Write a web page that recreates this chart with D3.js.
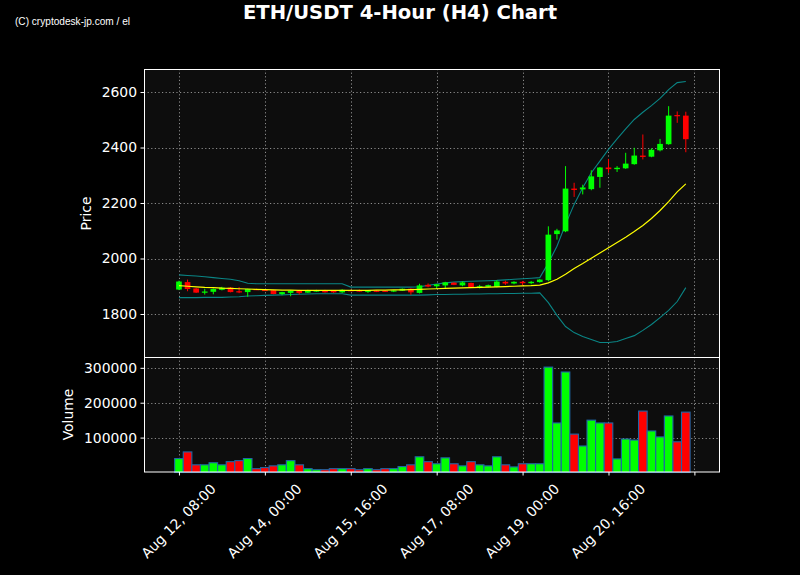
<!DOCTYPE html>
<html><head><meta charset="utf-8">
<script src="https://cdn.jsdelivr.net/npm/d3@7"></script>
<style>
html,body{margin:0;padding:0;background:#000;}
svg{display:block;}
text{font-family:"DejaVu Sans",sans-serif;fill:#fff;}
</style></head>
<body><svg id="c" width="800" height="575"></svg>
<script>
// ---- data ----
const startTime = "2024-08-12T08:00:00Z";
const opens  = [1888,1915,1892,1878,1880,1887,1895,1882,1879,1890,1887,1886,1872,1876,1884,1877,1882,1885,1884,1878,1886,1885,1881,1884,1884,1881,1884,1891,1876,1905,1900,1903,1913,1903,1912,1894,1898,1898,1916,1910,1916,1911,1915,1922,2088,2098,2252,2249,2250,2294,2328,2322,2325,2340,2371,2367,2390,2412,2517,2515];
const highs  = [1920,1924,1894,1891,1892,1898,1897,1897,1891,1891,1889,1887,1880,1886,1887,1887,1887,1887,1886,1889,1888,1888,1886,1886,1885,1886,1892,1893,1909,1910,1908,1916,1914,1918,1913,1905,1906,1922,1920,1918,1919,1919,1926,2116,2107,2333,2273,2266,2318,2330,2359,2333,2381,2399,2447,2397,2431,2549,2530,2529];
const lows   = [1886,1882,1876,1870,1871,1885,1878,1875,1862,1886,1884,1871,1868,1864,1870,1876,1880,1877,1876,1876,1883,1880,1876,1879,1880,1879,1883,1869,1874,1896,1890,1893,1904,1900,1894,1892,1896,1896,1905,1907,1903,1907,1913,1918,2068,2095,2222,2231,2246,2255,2309,2312,2323,2338,2357,2365,2386,2410,2489,2383];
const closes = [1917,1890,1877,1881,1890,1895,1879,1879,1890,1887,1886,1872,1879,1884,1876,1885,1885,1878,1878,1887,1885,1884,1884,1881,1881,1885,1891,1878,1903,1899,1907,1914,1905,1914,1896,1900,1904,1917,1910,1916,1911,1916,1924,2086,2101,2252,2247,2256,2296,2328,2322,2327,2342,2371,2366,2392,2413,2515,2513,2430];
const volumes = [40000,59000,22000,22000,28000,22000,31000,34000,40000,11000,14000,19000,22000,34000,22000,11000,8000,8000,11000,11000,11000,8000,11000,8000,11000,11000,17000,22000,45000,31000,25000,42000,25000,19000,31000,22000,19000,45000,22000,16000,25000,25000,25000,302000,142000,288000,110000,76000,150000,142000,142000,39000,96000,93000,176000,119000,102000,162000,88000,173000];
const sma20 = [1902,1900,1898,1896,1895,1893,1892,1891,1890,1889,1888,1887,1886,1886,1885,1885,1885,1885,1885,1885,1885,1885,1885,1886,1886,1887,1887,1888,1889,1890,1891,1892,1893,1894,1895,1896,1897,1898,1899,1900,1901,1902,1904,1912,1925,1943,1964,1982,2001,2020,2039,2058,2077,2097,2119,2144,2173,2205,2240,2269];
const upperBand = [1941,1939,1937,1934,1931,1928,1925,1920,1911,1909,1909,1909,1909,1909,1909,1909,1909,1909,1909,1909,1897,1897,1897,1897,1897,1897,1897,1897,1898,1903,1908,1912,1915,1917,1918,1919,1920,1921,1923,1925,1927,1929,1931,1984,2044,2123,2195,2255,2309,2351,2393,2431,2467,2501,2527,2551,2577,2609,2634,2638];
const lowerBand = [1859,1859,1859,1860,1860,1860,1861,1862,1865,1866,1867,1868,1869,1870,1871,1872,1873,1873,1873,1873,1868,1868,1868,1868,1868,1868,1868,1868,1868,1869,1870,1870,1871,1871,1872,1872,1873,1873,1874,1874,1875,1875,1876,1841,1795,1755,1733,1719,1708,1697,1697,1701,1712,1722,1741,1762,1787,1813,1845,1895];
const priceTicks = [1800,2000,2200,2400,2600];
const volumeTicks = [100000,200000,300000];
const xTickTimes = ["2024-08-12T08:00:00Z","2024-08-14T00:00:00Z","2024-08-15T16:00:00Z","2024-08-17T08:00:00Z","2024-08-19T00:00:00Z","2024-08-20T16:00:00Z","2024-08-22T08:00:00Z"];
const xTickLabels = ["Aug 12, 08:00","Aug 14, 00:00","Aug 15, 16:00","Aug 17, 08:00","Aug 19, 00:00","Aug 20, 16:00",""];
const titleText = "ETH/USDT 4-Hour (H4) Chart";
const watermark = "(C) cryptodesk-jp.com / el";

// ---- build ----
const H4 = 4*3600*1000;
const t0 = new Date(startTime).getTime();
const data = opens.map((o,i)=>({t:new Date(t0+i*H4),o,h:highs[i],l:lows[i],c:closes[i],v:volumes[i],ma:sma20[i],up:upperBand[i],lo:lowerBand[i]}));

const L=144,R=720,T=69,M=357,B=472.5;
const svg = d3.select("#c");
svg.append("rect").attr("width",800).attr("height",575).attr("fill","#000");

const x = d3.scaleTime().domain([new Date(t0-4.07*H4), new Date(t0+62.98*H4)]).range([L,R]);
const yP = d3.scaleLinear().domain([1645,2683]).range([M,T]);
const yV = d3.scaleLinear().domain([0,331000]).range([B,M]);
const step = x(new Date(t0+H4))-x(new Date(t0));
const up = "#00ff00", dn = "#ff0000";
const xt = xTickTimes.map(s=>new Date(s));

// panel backgrounds
svg.append("rect").attr("x",L).attr("y",T).attr("width",R-L).attr("height",M-T).attr("fill","#0d0d0d");
svg.append("rect").attr("x",L).attr("y",M).attr("width",R-L).attr("height",472-M).attr("fill","#0d0d0d");

// grids
const grid = svg.append("g").attr("stroke","#8c8c8c").attr("stroke-width",1).attr("stroke-dasharray","1.2,2.4");
xt.forEach(t=>{
  const px=Math.round(x(t))+0.5;
  grid.append("line").attr("x1",px).attr("x2",px).attr("y1",T).attr("y2",M);
  grid.append("line").attr("x1",px).attr("x2",px).attr("y1",M).attr("y2",472);
});
priceTicks.forEach(v=>{const py=Math.round(yP(v))+0.5;grid.append("line").attr("x1",L).attr("x2",R).attr("y1",py).attr("y2",py);});
volumeTicks.forEach(v=>{const py=Math.round(yV(v))+0.5;grid.append("line").attr("x1",L).attr("x2",R).attr("y1",py).attr("y2",py);});

// clip for price panel
svg.append("clipPath").attr("id","cp").append("rect").attr("x",L).attr("y",T).attr("width",R-L).attr("height",M-T);
const gp = svg.append("g").attr("clip-path","url(#cp)");

// bands
const line = acc => d3.line().x(d=>x(d.t)).y(d=>yP(acc(d)));
gp.append("path").datum(data).attr("d",line(d=>d.up)).attr("fill","none").attr("stroke","#0a8585").attr("stroke-width",1.1);
gp.append("path").datum(data).attr("d",line(d=>d.lo)).attr("fill","none").attr("stroke","#0a8585").attr("stroke-width",1.1);

// candles
const bw = step*0.66;
const cg = gp.append("g");
cg.selectAll("line.w").data(data).join("line").attr("class","w")
  .attr("x1",d=>x(d.t)).attr("x2",d=>x(d.t)).attr("y1",d=>yP(d.h)).attr("y2",d=>yP(d.l))
  .attr("stroke",d=>d.c>=d.o?up:dn).attr("stroke-width",1);
cg.selectAll("rect.b").data(data).join("rect").attr("class","b")
  .attr("x",d=>x(d.t)-bw/2).attr("width",bw)
  .attr("y",d=>yP(Math.max(d.o,d.c))).attr("height",d=>Math.max(1.2,Math.abs(yP(d.o)-yP(d.c))))
  .attr("fill",d=>d.c>=d.o?up:dn);

// MA
gp.append("path").datum(data).attr("d",line(d=>d.ma)).attr("fill","none").attr("stroke","#ffff00").attr("stroke-width",1.2);

// volume
svg.append("g").selectAll("rect").data(data).join("rect")
  .attr("x",d=>x(d.t)-step/2).attr("width",step)
  .attr("y",d=>yV(d.v)).attr("height",d=>yV(0)-yV(d.v))
  .attr("fill",d=>d.c>=d.o?up:dn).attr("stroke","#1f66a6").attr("stroke-width",1.1);

// spines
svg.append("rect").attr("x",L+0.5).attr("y",T+0.5).attr("width",R-L-1).attr("height",M-T).attr("fill","none").attr("stroke","#fff").attr("stroke-width",1);
svg.append("rect").attr("x",L+0.5).attr("y",M+0.5).attr("width",R-L-1).attr("height",472-M-0.5).attr("fill","none").attr("stroke","#fff").attr("stroke-width",1);

// axes
const fs = 13.9;
const ay = svg.append("g").attr("transform",`translate(${L},0)`)
  .call(d3.axisLeft(yP).tickValues(priceTicks).tickSize(3.5).tickPadding(3.5).tickFormat(d3.format("d")));
const av = svg.append("g").attr("transform",`translate(${L},0)`)
  .call(d3.axisLeft(yV).tickValues(volumeTicks).tickSize(3.5).tickPadding(3.5).tickFormat(d3.format("d")));
const ax = svg.append("g").attr("transform",`translate(0,472)`)
  .call(d3.axisBottom(x).tickValues(xt).tickSize(3.5).tickFormat((d,i)=>xTickLabels[i]));
[ay,av,ax].forEach(g=>{
  g.select(".domain").remove();
  g.selectAll(".tick line").attr("stroke","#fff").attr("stroke-width",1);
  g.selectAll("text").attr("fill","#fff").style("font-size",fs+"px").style("font-family","DejaVu Sans");
});
ax.selectAll(".tick text").each(function(){
  const t=d3.select(this);
  const len=this.getComputedTextLength();
  const h=fs*1.16;
  const half=(len+h)*Math.SQRT1_2/2;
  t.attr("x",0).attr("y",0).attr("dy",null).attr("text-anchor","middle").attr("dominant-baseline","central")
   .attr("transform",`translate(-1,${8.5+half}) rotate(-45)`);
});

// labels
svg.append("text").attr("transform","translate(91,213.5) rotate(-90)").attr("text-anchor","middle")
  .style("font-size",fs+"px").text("Price");
svg.append("text").attr("transform","translate(73,414.5) rotate(-90)").attr("text-anchor","middle")
  .style("font-size",fs+"px").text("Volume");
svg.append("text").attr("x",400).attr("y",18.5).attr("text-anchor","middle")
  .style("font-size","19.6px").style("font-weight","bold").text(titleText);
svg.append("text").attr("x",15).attr("y",25).style("font-family","'Liberation Sans Narrow','Liberation Sans',sans-serif")
  .style("font-size","11px").attr("textLength",115).attr("lengthAdjust","spacingAndGlyphs").text(watermark);
</script></body></html>
